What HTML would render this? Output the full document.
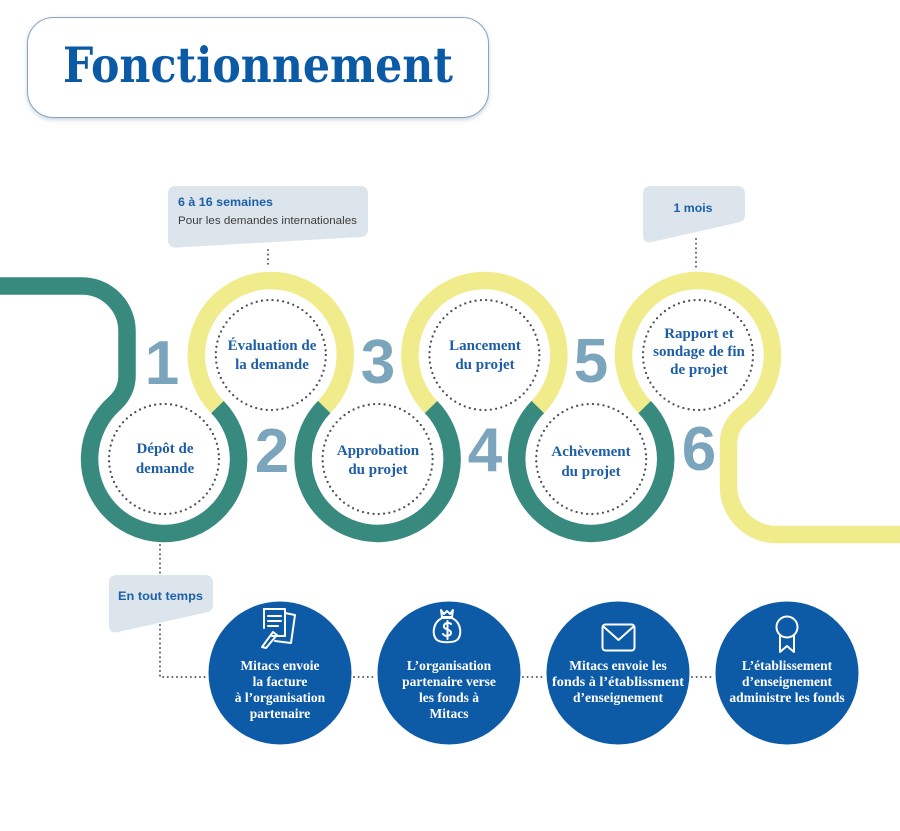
<!DOCTYPE html>
<html>
<head>
<meta charset="utf-8">
<style>
  html,body{margin:0;padding:0;background:#ffffff;}
  svg{display:block;}
  .lbl{font-family:"Liberation Serif",serif;font-weight:bold;font-size:15px;fill:#1d5ea7;text-anchor:middle;}
  .num{font-family:"Liberation Sans",sans-serif;font-weight:bold;font-size:62px;fill:#7ba4bd;text-anchor:middle;}
  .wt{font-family:"Liberation Serif",serif;font-weight:bold;font-size:13.5px;fill:#ffffff;text-anchor:middle;}
  .cb{font-family:"Liberation Sans",sans-serif;font-weight:bold;font-size:12px;fill:#1a5fa8;}
  .cr{font-family:"Liberation Sans",sans-serif;font-size:11px;fill:#3d3d3d;}
</style>
</head>
<body>
<svg width="900" height="831" viewBox="0 0 900 831" xmlns="http://www.w3.org/2000/svg">
  <defs>
    <filter id="sh" x="-10%" y="-10%" width="120%" height="140%">
      <feDropShadow dx="0" dy="2" stdDeviation="2" flood-color="#8aa2bb" flood-opacity="0.45"/>
    </filter>
  </defs>
  <rect width="900" height="831" fill="#ffffff"/>

  <!-- Title -->
  <rect x="27.5" y="17.5" width="461" height="100" rx="26" ry="26" fill="#ffffff" stroke="#86a3c3" stroke-width="1" filter="url(#sh)"/>
  <text x="63" y="82" font-family="DejaVu Serif, Liberation Serif, serif" font-weight="bold" font-size="49" fill="#0b5aa6" textLength="390" lengthAdjust="spacingAndGlyphs">Fonctionnement</text>

  <!-- Callouts -->
  <path d="M176,186 H360 Q368,186 368,194 V229 Q368,236.5 361,237 L177,247.5 Q168,248 168,239.5 V194 Q168,186 176,186 Z" fill="#dde5ec"/>
  <text x="178" y="206" class="cb" textLength="95" lengthAdjust="spacingAndGlyphs">6 à 16 semaines</text>
  <text x="178" y="224" class="cr" textLength="179" lengthAdjust="spacingAndGlyphs">Pour les demandes internationales</text>

  <path d="M651,186 H737 Q745,186 745,194 V215 Q745,221 739,222.3 L652,242 Q643,244 643,235 V194 Q643,186 651,186 Z" fill="#dde5ec"/>
  <text x="693" y="212" class="cb" text-anchor="middle" textLength="39" lengthAdjust="spacingAndGlyphs">1 mois</text>

  <path d="M117,575 H205 Q213,575 213,583 V605 Q213,611 207,612.3 L118,632 Q109,634 109,625 V583 Q109,575 117,575 Z" fill="#dde5ec"/>
  <text x="118" y="600" class="cb" textLength="85" lengthAdjust="spacingAndGlyphs">En tout temps</text>

  <!-- Dotted connectors -->
  <g stroke="#555a60" stroke-width="2" stroke-linecap="round" stroke-dasharray="0 4.6" fill="none">
    <line x1="268" y1="250" x2="268" y2="268"/>
    <line x1="696" y1="239" x2="696" y2="268"/>
    <line x1="160" y1="545" x2="160" y2="573"/>
    <path d="M160,625 V677 H208"/>
    <line x1="354" y1="677" x2="376" y2="677"/>
    <line x1="523" y1="677" x2="545" y2="677"/>
    <line x1="692" y1="677" x2="714" y2="677"/>
  </g>

  <!-- Snake track -->
  <g fill="none" stroke-width="17.5" stroke-linecap="butt">
    <path stroke="#398a7e" d="M0,286 H82 A45,45 0 0 1 127,331 V375.6 A37,37 0 0 1 114.6,403.3 A74.5,74.5 0 1 0 217.4,407"/>
    <path stroke="#f0ec8c" d="M217.4,407 A74.5,74.5 0 1 1 324.2,407"/>
    <path stroke="#398a7e" d="M324.2,407 A74.5,74.5 0 1 0 431,407"/>
    <path stroke="#f0ec8c" d="M431,407 A74.5,74.5 0 1 1 537.8,407"/>
    <path stroke="#398a7e" d="M537.8,407 A74.5,74.5 0 1 0 644.6,407"/>
    <path stroke="#f0ec8c" d="M644.6,407 A74.5,74.5 0 1 1 743.1,414.3 A37,37 0 0 0 728.5,443.75 V486.5 A48,48 0 0 0 776.5,534.5 H900"/>
  </g>

  <!-- Dotted inner circles -->
  <g fill="none" stroke="#4d5258" stroke-width="2.3" stroke-linecap="round" stroke-dasharray="0 5.32">
    <circle cx="164" cy="459" r="55"/>
    <circle cx="270.8" cy="355" r="55"/>
    <circle cx="377.6" cy="459" r="55"/>
    <circle cx="484.4" cy="355" r="55"/>
    <circle cx="591.2" cy="459" r="55"/>
    <circle cx="698" cy="355" r="55"/>
  </g>

  <!-- Numbers -->
  <text x="162" y="384" class="num">1</text>
  <text x="272" y="472" class="num">2</text>
  <text x="378" y="383" class="num">3</text>
  <text x="485" y="471" class="num">4</text>
  <text x="591" y="382" class="num">5</text>
  <text x="699" y="470" class="num">6</text>

  <!-- Step labels -->
  <text x="165" y="453" class="lbl">Dépôt de</text>
  <text x="165" y="473" class="lbl">demande</text>

  <text x="272" y="350" class="lbl">Évaluation de</text>
  <text x="272" y="369" class="lbl">la demande</text>

  <text x="378" y="455" class="lbl">Approbation</text>
  <text x="378" y="474" class="lbl">du projet</text>

  <text x="485" y="350" class="lbl">Lancement</text>
  <text x="485" y="369" class="lbl">du projet</text>

  <text x="591" y="456" class="lbl">Achèvement</text>
  <text x="591" y="476" class="lbl">du projet</text>

  <text x="699" y="338" class="lbl">Rapport et</text>
  <text x="699" y="356" class="lbl">sondage de fin</text>
  <text x="699" y="374" class="lbl">de projet</text>

  <!-- Bottom blue circles -->
  <g fill="#0d5ba7">
    <circle cx="280" cy="673" r="71.5"/>
    <circle cx="449" cy="673" r="71.5"/>
    <circle cx="618" cy="673" r="71.5"/>
    <circle cx="787" cy="673" r="71.5"/>
  </g>

  <!-- Icons -->
  <g fill="none" stroke="#ffffff" stroke-width="2" stroke-linejoin="round" stroke-linecap="round">
    <!-- document -->
    <path d="M285,613 L295,615 L291,643 L275,641"/>
    <path d="M264,609 H285 V636 H272"/>
    <path d="M264,609 V628"/>
    <line x1="268" y1="616" x2="281" y2="616"/>
    <line x1="268" y1="621" x2="281" y2="621"/>
    <line x1="268" y1="626" x2="278" y2="626"/>
    <path d="M262,647 L273,632 L277,635 L266,648 Z"/>
    <!-- money bag -->
    <path d="M441,610 L444,614 L447,611 L450,614 L453,610 L452,617 H442 Z"/>
    <path d="M442,618 C432,623 432,636 437,640 C441,643 453,643 457,640 C462,636 462,623 452,618 Z"/>
    <path d="M451,624 C449,622 443,623 444,627 C445,630 451,629 451,633 C451,636 445,637 443,634"/>
    <line x1="447.5" y1="621" x2="447.5" y2="639"/>
    <!-- envelope -->
    <rect x="602.5" y="624.5" width="32" height="26" rx="3"/>
    <path d="M604,627 L618.5,640 L633,627"/>
    <!-- ribbon -->
    <circle cx="787" cy="627" r="10.5"/>
    <path d="M780,635 V652 L787,646 L794,652 V635"/>
  </g>

  <!-- Bottom texts -->
  <text x="280" y="670" class="wt">Mitacs envoie</text>
  <text x="280" y="686" class="wt">la facture</text>
  <text x="280" y="702" class="wt">à l’organisation</text>
  <text x="280" y="718" class="wt">partenaire</text>

  <text x="449" y="670" class="wt">L’organisation</text>
  <text x="449" y="686" class="wt">partenaire verse</text>
  <text x="449" y="702" class="wt">les fonds à</text>
  <text x="449" y="718" class="wt">Mitacs</text>

  <text x="618" y="670" class="wt">Mitacs envoie les</text>
  <text x="618" y="686" class="wt" textLength="132" lengthAdjust="spacingAndGlyphs">fonds à l’établissment</text>
  <text x="618" y="702" class="wt">d’enseignement</text>

  <text x="787" y="670" class="wt">L’établissement</text>
  <text x="787" y="686" class="wt">d’enseignement</text>
  <text x="787" y="702" class="wt">administre les fonds</text>
</svg>
</body>
</html>
